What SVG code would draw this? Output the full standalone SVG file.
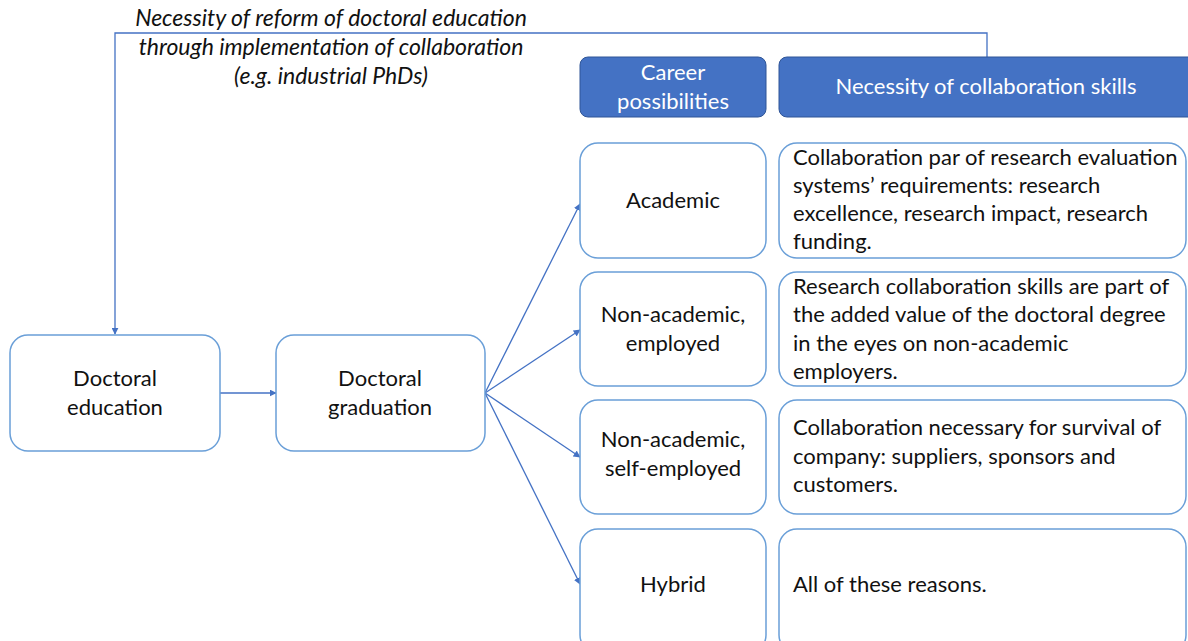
<svg xmlns="http://www.w3.org/2000/svg" width="1188" height="641" viewBox="0 0 1188 641">
  <defs>
    <marker id="arrow" viewBox="0 0 10 10" refX="9" refY="5" markerWidth="7" markerHeight="7" markerUnits="userSpaceOnUse" orient="auto">
      <path d="M0,0 L10,5 L0,10 z" fill="#4472c4"/>
    </marker>
    <style>
      .box { fill: #ffffff; stroke: #6a9fd8; stroke-width: 1.5; }
      .head { fill: #4472c4; stroke: #2f5597; stroke-width: 1; }
      .t { font-family: Lato, "Liberation Sans", sans-serif; font-size: 22px; fill: #111111; }
      .c { text-anchor: middle; }
      .w { fill: #ffffff; }
      .it { font-style: italic; font-size: 23px; }
      .link { fill: none; stroke: #4472c4; stroke-width: 1.3; marker-end: url(#arrow); }
    </style>
  </defs>
  <rect width="1188" height="641" fill="#ffffff"/>

  <!-- connectors -->
  <g id="connectors">
    <path class="link" d="M987,57 V33 H115 V334"/>
    <path class="link" d="M220,393 H276"/>
    <path class="link" d="M485,393 L580,204"/>
    <path class="link" d="M485,393 L580,330"/>
    <path class="link" d="M485,393 L580,457"/>
    <path class="link" d="M485,393 L580,584"/>
  </g>

  <!-- reform label on the feedback loop -->
  <g id="reform-label">
    <text class="t c it" x="331" y="26">Necessity of reform of doctoral education</text>
    <text class="t c it" x="331" y="55">through implementation of collaboration</text>
    <text class="t c it" x="331" y="84">(e.g. industrial PhDs)</text>
  </g>

  <g id="doctoral-education">
    <rect class="box" x="10" y="335" width="210" height="116" rx="18"/>
    <text class="t c" x="115" y="386">Doctoral</text>
    <text class="t c" x="115" y="415">education</text>
  </g>

  <g id="doctoral-graduation">
    <rect class="box" x="276" y="335" width="209" height="116" rx="18"/>
    <text class="t c" x="380" y="386">Doctoral</text>
    <text class="t c" x="380" y="415">graduation</text>
  </g>

  <g id="header-career">
    <rect class="head" x="580" y="57" width="186" height="60" rx="8"/>
    <text class="t c w" x="673" y="80">Career</text>
    <text class="t c w" x="673" y="109">possibilities</text>
  </g>

  <g id="header-skills">
    <rect class="head" x="779" y="57" width="420" height="60" rx="8"/>
    <text class="t c w" x="986" y="94">Necessity of collaboration skills</text>
  </g>

  <g id="academic">
    <rect class="box" x="580" y="143" width="186" height="115" rx="18"/>
    <text class="t c" x="673" y="208">Academic</text>
  </g>
  <g id="academic-skills">
    <rect class="box" x="779" y="143" width="407" height="115" rx="18"/>
    <text class="t" x="793" y="165">Collaboration par of research evaluation</text>
    <text class="t" x="793" y="193">systems’ requirements: research</text>
    <text class="t" x="793" y="221">excellence, research impact, research</text>
    <text class="t" x="793" y="249">funding.</text>
  </g>

  <g id="non-academic-employed">
    <rect class="box" x="580" y="272" width="186" height="114" rx="18"/>
    <text class="t c" x="673" y="322">Non-academic,</text>
    <text class="t c" x="673" y="351">employed</text>
  </g>
  <g id="employed-skills">
    <rect class="box" x="779" y="272" width="407" height="114" rx="18"/>
    <text class="t" x="793" y="294">Research collaboration skills are part of</text>
    <text class="t" x="793" y="322">the added value of the doctoral degree</text>
    <text class="t" x="793" y="351">in the eyes on non-academic</text>
    <text class="t" x="793" y="379">employers.</text>
  </g>

  <g id="non-academic-self-employed">
    <rect class="box" x="580" y="400" width="186" height="114" rx="18"/>
    <text class="t c" x="673" y="447">Non-academic,</text>
    <text class="t c" x="673" y="476">self-employed</text>
  </g>
  <g id="self-employed-skills">
    <rect class="box" x="779" y="400" width="407" height="114" rx="18"/>
    <text class="t" x="793" y="435">Collaboration necessary for survival of</text>
    <text class="t" x="793" y="464">company: suppliers, sponsors and</text>
    <text class="t" x="793" y="492">customers.</text>
  </g>

  <g id="hybrid">
    <rect class="box" x="580" y="529" width="186" height="124" rx="18"/>
    <text class="t c" x="673" y="592">Hybrid</text>
  </g>
  <g id="hybrid-skills">
    <rect class="box" x="779" y="529" width="407" height="124" rx="18"/>
    <text class="t" x="793" y="592">All of these reasons.</text>
  </g>
</svg>
